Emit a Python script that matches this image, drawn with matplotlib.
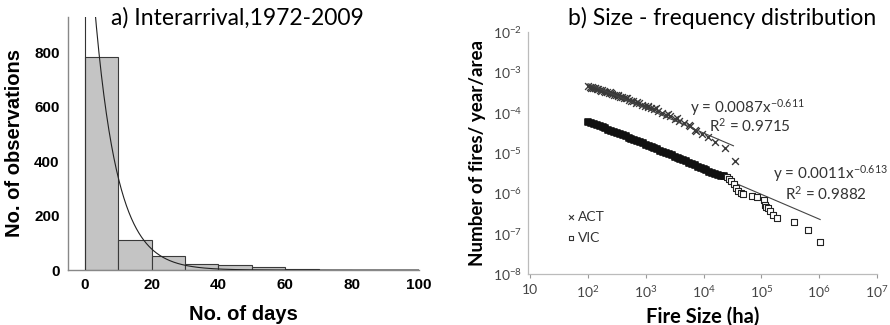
import matplotlib
matplotlib.use("Agg")
import matplotlib.pyplot as plt
import numpy as np

# ---------------- data: panel a ----------------
bin_edges = [0, 10, 20, 30, 40, 50, 60, 70, 80]
bin_counts = [783, 112, 50, 23, 17, 12, 4, 2]
exp_A = 1500.0     # fitted exponential curve parameters
exp_k = 0.148
a_xticks = [0, 20, 40, 60, 80, 100]
a_yticks = [0, 200, 400, 600, 800]

# ---------------- data: panel b ----------------
act_size = [100, 107, 115, 123, 132, 141, 151, 162, 174, 186, 200, 214, 229, 245,
            263, 282, 302, 324, 355, 380, 417, 457, 501, 550, 603, 676, 759, 851,
            955, 1072, 1230, 1413, 1622, 1905, 2239, 2630, 3162, 3800, 4570, 5500,
            5750, 7080, 7400, 9300, 12000, 15500, 24000, 35500,
            110, 130, 170, 240, 330, 480, 700, 1100, 1500, 2400, 3500]
act_freq = [4.6e-4, 4.4e-4, 4.35e-4, 4.1e-4, 4.0e-4, 3.9e-4, 3.8e-4, 3.6e-4, 3.55e-4,
            3.45e-4, 3.3e-4, 3.25e-4, 3.15e-4, 3.0e-4, 2.95e-4, 2.8e-4, 2.75e-4, 2.7e-4,
            2.5e-4, 2.45e-4, 2.35e-4, 2.25e-4, 2.1e-4, 2.0e-4, 1.9e-4, 1.78e-4, 1.7e-4,
            1.58e-4, 1.48e-4, 1.38e-4, 1.29e-4, 1.2e-4, 1.1e-4, 1.0e-4, 8.9e-5, 8.3e-5,
            7.1e-5, 6.3e-5, 5.5e-5, 5.0e-5, 4.6e-5, 3.8e-5, 3.5e-5, 3.0e-5, 2.5e-5,
            1.9e-5, 1.3e-5, 6.3e-6,
            4.2e-4, 4.1e-4, 3.5e-4, 3.2e-4, 2.6e-4, 2.3e-4, 1.8e-4, 1.45e-4, 1.3e-4,
            9.5e-5, 7.5e-5]

vic_size = [100, 112, 126, 141, 158, 178, 200, 224, 251, 282, 316, 355, 398, 447,
            501, 562, 631, 708, 794, 891, 1000, 1122, 1259, 1413, 1585, 1778, 1995,
            2239, 2512, 2818, 3162, 3548, 3981, 4467, 5012, 5623, 6310, 7079, 7943,
            8913, 10000, 11220, 12590, 14130, 15850, 17780, 19950, 22390, 25120,
            27500, 30200, 33100, 36300, 39800, 44700, 49000, 69000, 83000, 112000,
            117500, 123000, 129000, 141000, 162000, 190000, 363000, 646000, 1047000]
vic_freq = [6.03e-5, 5.6e-5, 5.3e-5, 4.95e-5, 4.6e-5, 4.35e-5, 4.07e-5, 3.8e-5,
            3.55e-5, 3.34e-5, 3.13e-5, 2.95e-5, 2.75e-5, 2.57e-5, 2.4e-5, 2.25e-5,
            2.1e-5, 1.97e-5, 1.85e-5, 1.74e-5, 1.62e-5, 1.51e-5, 1.41e-5, 1.32e-5,
            1.23e-5, 1.15e-5, 1.07e-5, 1.0e-5, 9.3e-6, 8.7e-6, 8.1e-6, 7.6e-6, 7.1e-6,
            6.6e-6, 6.2e-6, 5.75e-6, 5.4e-6, 4.95e-6, 4.57e-6, 4.27e-6, 3.98e-6,
            3.7e-6, 3.47e-6, 3.24e-6, 3.02e-6, 2.88e-6, 2.75e-6, 2.63e-6, 2.5e-6,
            2.24e-6, 2.0e-6, 1.66e-6, 1.35e-6, 1.12e-6, 1.0e-6, 9.5e-7, 8.5e-7, 7.9e-7,
            6.9e-7, 5.2e-7, 4.7e-7, 4.3e-7, 3.55e-7, 2.95e-7, 2.4e-7, 2.0e-7, 1.23e-7,
            6.3e-8]
vic_dense_count = 48   # points in the solid, overlapping part of the VIC series

act_coef, act_exp, act_r2 = 0.0087, -0.611, 0.9715
vic_coef, vic_exp, vic_r2 = 0.0011, -0.613, 0.9882
act_fit_range = [100, 33000]
vic_fit_range = [100, 1050000]

b_xticks = [1e1, 1e2, 1e3, 1e4, 1e5, 1e6, 1e7]
b_xlabels = ["10", r"10$^{2}$", r"10$^{3}$", r"10$^{4}$", r"10$^{5}$", r"10$^{6}$", r"10$^{7}$"]
b_yticks = [1e-8, 1e-7, 1e-6, 1e-5, 1e-4, 1e-3, 1e-2]
b_ylabels = [r"10$^{-8}$", r"10$^{-7}$", r"10$^{-6}$", r"10$^{-5}$", r"10$^{-4}$", r"10$^{-3}$", r"10$^{-2}$"]

plt.rcParams["mathtext.fontset"] = "custom"
plt.rcParams["mathtext.rm"] = "Lato"
plt.rcParams["mathtext.it"] = "Lato"

fig = plt.figure(figsize=(8.9, 3.25), dpi=100)

# ---------------- panel a ----------------
axa = fig.add_axes([0.0764, 0.169, 0.3944, 0.779])
widths = np.diff(bin_edges)
axa.bar(bin_edges[:-1], bin_counts, width=widths, align="edge",
        color="#c4c4c4", edgecolor="#3a3a3a", linewidth=0.8, zorder=2)
xs = np.linspace(0.5, 100, 400)
axa.plot(xs, exp_A * np.exp(-exp_k * xs), color="#222222", linewidth=0.8, zorder=3)
axa.axvline(0, color="#333333", linewidth=0.8, zorder=3)
axa.set_xlim(-5, 100)
axa.set_ylim(0, 930)
axa.set_xticks(a_xticks)
axa.set_yticks(a_yticks)
for s in ["top", "right"]:
    axa.spines[s].set_visible(False)
for s in ["left", "bottom"]:
    axa.spines[s].set_color("#888888")
    axa.spines[s].set_linewidth(1.0)
axa.tick_params(length=0, pad=6)
for lab in axa.get_xticklabels() + axa.get_yticklabels():
    lab.set_fontfamily("Liberation Sans")
    lab.set_fontweight("bold")
    lab.set_fontsize(11)
axa.set_xlabel("No. of days", fontfamily="Liberation Sans", fontweight="bold",
               fontsize=14.5, labelpad=9)
axa.set_ylabel("No. of observations", fontfamily="Liberation Sans", fontweight="bold",
               fontsize=14.5, labelpad=7)
fig.text(0.267, 0.945, "a) Interarrival,1972-2009", ha="center", va="center",
         fontfamily="Lato", fontsize=16.5)

# ---------------- panel b ----------------
axb = fig.add_axes([0.593, 0.157, 0.392, 0.7445])
axb.set_xscale("log")
axb.set_yscale("log")
xv = np.logspace(np.log10(vic_fit_range[0]), np.log10(vic_fit_range[1]), 50)
axb.plot(xv, vic_coef * xv ** vic_exp, color="#444444", linewidth=0.8, zorder=1)
axb.scatter(vic_size[:vic_dense_count], vic_freq[:vic_dense_count], marker="s", s=22,
            facecolors="#111111", edgecolors="#111111", linewidths=1.2, zorder=2)
axb.scatter(vic_size[vic_dense_count:], vic_freq[vic_dense_count:], marker="s", s=14,
            facecolors="white", edgecolors="#222222", linewidths=0.8, zorder=2)
axb.scatter(act_size, act_freq, marker="x", s=24, color="#3a3a3a",
            linewidths=1.0, zorder=3)
xf = np.logspace(np.log10(act_fit_range[0]), np.log10(act_fit_range[1]), 50)
axb.plot(xf, act_coef * xf ** act_exp, color="#444444", linewidth=0.8, zorder=4)
axb.set_xlim(9, 1e7)
axb.set_ylim(1e-8, 1e-2)
axb.set_xticks(b_xticks)
axb.set_xticklabels(b_xlabels)
axb.set_yticks(b_yticks)
axb.set_yticklabels(b_ylabels)
axb.minorticks_off()
for s in ["top", "right"]:
    axb.spines[s].set_visible(False)
for s in ["left", "bottom"]:
    axb.spines[s].set_color("#bbbbbb")
    axb.spines[s].set_linewidth(0.9)
axb.tick_params(axis="x", length=3, color="#999999", pad=4)
axb.tick_params(axis="y", length=0, pad=4)
for lab in axb.get_xticklabels() + axb.get_yticklabels():
    lab.set_fontfamily("Lato")
    lab.set_fontsize(10)
    lab.set_color("#444444")
axb.set_xlabel("Fire Size (ha)", fontfamily="Lato", fontweight="bold",
               fontsize=14.5, labelpad=5)
axb.set_ylabel("Number of fires/ year/area", fontfamily="Lato", fontweight="bold",
               fontsize=13.5, labelpad=5)
fig.text(0.811, 0.945, "b) Size - frequency distribution", ha="center", va="center",
         fontfamily="Lato", fontsize=16.5)

eq_kw = dict(fontfamily="Lato", fontsize=11, color="#333333", ha="center", va="center")
fig.text(747 / 890, 1 - 108 / 325, r"y = %.4fx$^{%.3f}$" % (act_coef, act_exp), **eq_kw)
fig.text(750 / 890, 1 - 126 / 325, r"R$^{2}$ = %.4f" % act_r2, **eq_kw)
fig.text(830 / 890, 1 - 174 / 325, r"y = %.4fx$^{%.3f}$" % (vic_coef, vic_exp), **eq_kw)
fig.text(826 / 890, 1 - 194 / 325, r"R$^{2}$ = %.4f" % vic_r2, **eq_kw)

# legend-like labels
axb.scatter([0.125], [0.236], marker="x", s=12, color="#333333", linewidths=0.8,
            transform=axb.transAxes, clip_on=False)
axb.scatter([0.125], [0.15], marker="s", s=10, facecolors="white", edgecolors="#333333",
            linewidths=0.8, transform=axb.transAxes, clip_on=False)
axb.text(0.145, 0.236, "ACT", transform=axb.transAxes, fontfamily="Lato", fontsize=10,
         color="#333333", va="center")
axb.text(0.145, 0.15, "VIC", transform=axb.transAxes, fontfamily="Lato", fontsize=10,
         color="#333333", va="center")

fig.savefig("out.png", dpi=100)
